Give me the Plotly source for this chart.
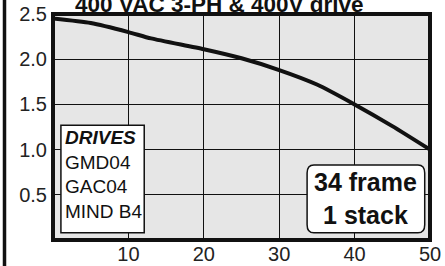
import plotly.graph_objects as go

speed = [0, 5, 10, 13, 20, 25, 30, 35, 40, 45, 50]
torque = [2.45, 2.4, 2.3, 2.23, 2.11, 2.01, 1.88, 1.72, 1.5, 1.26, 1.0]
x_ticks = [10, 20, 30, 40, 50]
y_ticks = [0.5, 1.0, 1.5, 2.0, 2.5]
drives = ["GMD04", "GAC04", "MIND B4"]
title_text = "400 VAC 3-PH & 400V drive"
frame_text = "34 frame<br>1 stack"

fig = go.Figure()
fig.add_trace(go.Scatter(x=speed, y=torque, mode="lines",
                         line=dict(color="#111111", width=4, shape="spline", smoothing=0.6),
                         hoverinfo="skip", showlegend=False))

font = "Liberation Sans, Arial, sans-serif"
L, R, T, B = 53, 15, 14, 26
W, H = 445, 266
pw = W - L - R
ph = H - T - B
fig.update_layout(
    width=W, height=H,
    margin=dict(l=L, r=R, t=T, b=B, autoexpand=False),
    paper_bgcolor="white", plot_bgcolor="#e6e6e6",
    showlegend=False,
    font=dict(family=font, size=20, color="#222222"),
    xaxis=dict(range=[0, 50], tickvals=x_ticks, ticktext=[str(v) for v in x_ticks],
               showgrid=True, gridcolor="#111111", gridwidth=1, zeroline=False,
               showline=False, ticks="", tickfont=dict(size=20)),
    yaxis=dict(range=[0, 2.5], tickvals=y_ticks, ticktext=[f"{v:.1f}" for v in y_ticks],
               showgrid=True, gridcolor="#111111", gridwidth=1, zeroline=False,
               showline=False, ticks="outside", ticklen=0, tickcolor="rgba(0,0,0,0)",
               ticklabelstandoff=1, tickfont=dict(size=20)),
)

shapes = []
# plot border
shapes.append(dict(type="rect", xref="paper", yref="paper", x0=0, y0=0, x1=1, y1=1,
                   line=dict(color="#111111", width=4), layer="above"))
# left page bar
bx = (4.5 - L) / pw
shapes.append(dict(type="line", xref="paper", yref="paper", x0=bx, x1=bx,
                   y0=-0.2, y1=1.2, line=dict(color="#111111", width=3.5)))
# drives box
shapes.append(dict(type="rect", xref="x", yref="y", x0=1.05, x1=12.1, y0=0.08, y1=1.27,
                   fillcolor="white", line=dict(color="#111111", width=1.5), layer="above"))
# frame box rounded
x0, x1, y0, y1 = 33.7, 49.3, 0.08, 0.83
rx, ry = 0.9, 0.09
path = (f"M {x0+rx},{y0} L {x1-rx},{y0} Q {x1},{y0} {x1},{y0+ry} "
        f"L {x1},{y1-ry} Q {x1},{y1} {x1-rx},{y1} L {x0+rx},{y1} "
        f"Q {x0},{y1} {x0},{y1-ry} L {x0},{y0+ry} Q {x0},{y0} {x0+rx},{y0} Z")
shapes.append(dict(type="path", xref="x", yref="y", path=path, fillcolor="white",
                   line=dict(color="#111111", width=1.5), layer="above"))
fig.update_layout(shapes=shapes)

ann = []
ann.append(dict(xref="x", yref="y", x=1.3, y=1.27, xanchor="left", yanchor="top",
                text="<b><i>DRIVES</i></b><br>" + "<br>".join(drives), showarrow=False, align="left",
                font=dict(family=font, size=19, color="#111111")))
ann.append(dict(xref="x", yref="y", x=41.5, y=0.455, xanchor="center", yanchor="middle",
                text="<b>" + frame_text + "</b>", showarrow=False, align="center",
                font=dict(family=font, size=25, color="#111111")))
ann.append(dict(xref="paper", yref="paper", x=(219 - L) / pw, y=1.0, yshift=-5, xanchor="center", yanchor="bottom",
                text="<b>" + title_text + "</b>", showarrow=False,
                font=dict(family=font, size=22.5, color="#111111")))
fig.update_layout(annotations=ann)

fig.write_html("out.html", post_script="document.body.style.margin='0';",
               config={"displayModeBar": False})
